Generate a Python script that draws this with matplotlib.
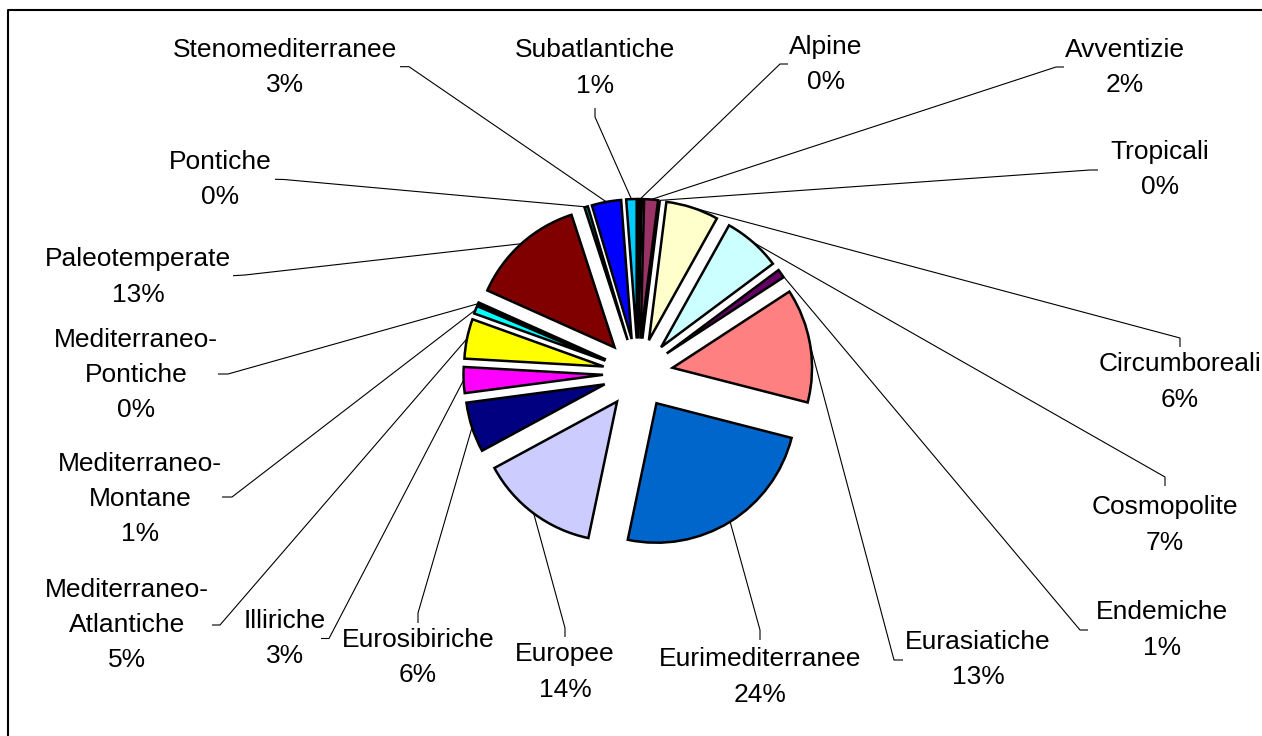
import numpy as np
import matplotlib.pyplot as plt

plt.rcParams['font.family'] = ['Liberation Sans', 'DejaVu Sans']

W, H = 1262, 736

# corotipi (ordine come nel foglio)
categorie = ['Alpine', 'Avventizie', 'Tropicali', 'Circumboreali', 'Cosmopolite',
             'Endemiche', 'Eurasiatiche', 'Eurimediterranee', 'Europee',
             'Eurosibiriche', 'Illiriche', 'Mediterraneo-\nAtlantiche',
             'Mediterraneo-\nMontane', 'Mediterraneo-\nPontiche', 'Paleotemperate',
             'Pontiche', 'Stenomediterranee', 'Subatlantiche']
percentuali = [0.4, 1.6, 0.0, 6.1, 6.7, 1.0, 13.2, 24.3, 13.8, 5.8, 3.0, 4.6,
               0.9, 0.3, 13.3, 0.4, 3.4, 1.2]
colori = ['#000000', '#993366', '#CCFFFF', '#FFFFCC', '#CCFFFF', '#660066',
          '#FF8080', '#0066CC', '#CCCCFF', '#000080', '#FF00FF', '#FFFF00',
          '#00FFFF', '#800080', '#800000', '#008080', '#0000FF', '#00CCFF']

# posizione etichette (pixel, y dall'alto) e gancio della linea guida
pos_etichette = [(826, 64.5), (1125, 67.5), (1160, 169.5), (1180, 382),
                 (1165, 525), (1162, 630), (978, 659.5), (760, 677),
                 (565, 672), (418, 657.5), (285, 638.5), (127, 625),
                 (140, 499), (136, 375), (138, 277), (220, 179.5),
                 (285, 67.5), (595, 68)]
ganci = [((788, 64), (780, 64)), ((1064, 67), (1056, 67)),
         ((1098, 170), (1090, 170)), ((1180, 347), (1180, 338)),
         ((1165, 486), (1165, 477)), ((1088, 630), (1080, 630)),
         ((903, 660), (894, 660)), ((760, 640), (760, 630)),
         ((565, 637), (565, 628)), ((418, 623), (418, 613)),
         ((321, 638.5), (329, 638.5)), ((212, 625), (220, 625)),
         ((222, 497), (232, 497)), ((218, 374), (228, 374)),
         ((233, 275.7), (245, 275)), ((275, 179.3), (284, 179.5)),
         ((400, 66.7), (409, 66.7)), ((595, 108), (595, 117))]


def fy(y):
    return H - y


fig = plt.figure(figsize=(W / 100, H / 100), dpi=100)
ax = fig.add_axes([0, 0, 1, 1])

tot = sum(percentuali)
wedges, _ = ax.pie(percentuali, colors=colori, startangle=90, counterclock=False,
                   center=(638, fy(373.5)), radius=139.5,
                   explode=[35] * len(percentuali),
                   wedgeprops=dict(edgecolor='black', linewidth=1.8))
ax.set_xlim(0, W)
ax.set_ylim(0, H)
ax.set_aspect('equal')
ax.axis('off')

for w, nome, v, (tx, ty), (fine, gomito) in zip(wedges, categorie, percentuali,
                                                pos_etichette, ganci):
    ang = np.deg2rad((w.theta1 + w.theta2) / 2)
    px = w.center[0] + w.r * np.cos(ang)
    py = w.center[1] + w.r * np.sin(ang)
    ax.plot([px, gomito[0], fine[0]], [py, fy(gomito[1]), fy(fine[1])],
            color='black', lw=0.8, solid_capstyle='butt')
    pct = int(round(v / tot * 100))
    ax.text(tx, fy(ty), f'{nome}\n{pct}%', ha='center', va='center',
            multialignment='center', fontsize=19, linespacing=1.58)

# cornice del grafico
ax.plot([7.5, 7.5, W + 5], [-5, fy(9.5), fy(9.5)], color='black', lw=1.5,
        clip_on=False)

fig.savefig('out.png', dpi=100, facecolor='white')
